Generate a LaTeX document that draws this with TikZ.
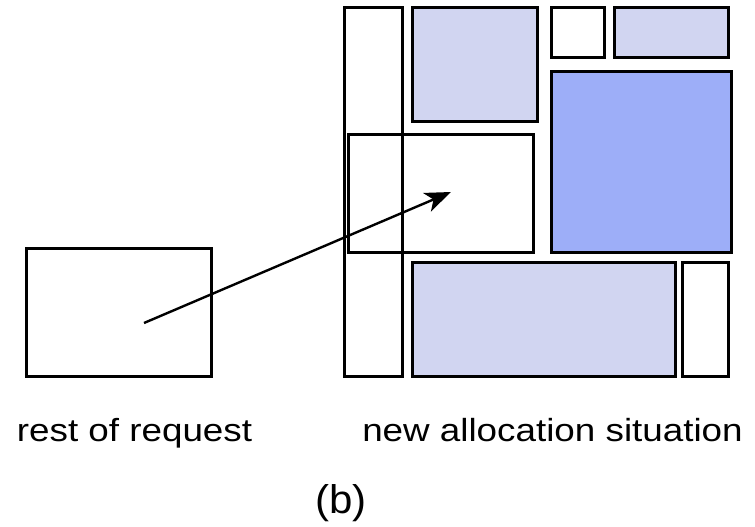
\documentclass[tikz,border=0pt]{standalone}
\usepackage{fontspec}
\setmainfont{Liberation Sans}
\usetikzlibrary{arrows.meta}
\definecolor{lightblk}{RGB}{209,213,241}
\definecolor{darkblk}{RGB}{157,174,248}
\tikzset{
  blk/.style={draw=black, line width=2.6pt, inner sep=0pt, outer sep=0pt},
  lbl/.style={anchor=base, inner sep=0pt, font=\fontsize{32}{38}\selectfont, xscale=1.15},
  conn/.style={line width=2.4pt, -{Stealth[length=26pt,width=20pt,inset=7pt]}}
}
\newcommand{\blkbox}[6]{% name, cx, cy, W, H, fill
  \node[blk, fill=#6, minimum width=#4pt-2.6pt, minimum height=#5pt-2.6pt] (#1) at (#2,#3) {};}
\begin{document}
\begin{tikzpicture}[x=1pt,y=-1pt]
\useasboundingbox (0,0) rectangle (755,527);
\blkbox{req}{119}{312.5}{188}{131}{none}
\blkbox{col}{373.5}{192}{61}{372}{none}
\blkbox{tl}{475}{64.5}{128}{117}{lightblk}
\blkbox{sw}{578}{32.5}{56}{53}{none}
\blkbox{tr}{671.5}{32.5}{117}{53}{lightblk}
\blkbox{big}{641.5}{162}{183}{184}{darkblk}
\blkbox{bl}{544}{319.5}{266}{117}{lightblk}
\blkbox{br}{705.5}{319.5}{49}{117}{none}
\blkbox{ov}{441}{193.5}{188}{121}{none}
\coordinate (from) at (144,323);
\coordinate (to) at (451,192);
\draw[conn] (from) -- (to);
\node[lbl] (t1) at (134.5,441) {rest of request};
\node[lbl] (t2) at (552.5,441) {new allocation situation};
\node[anchor=base, inner sep=0pt, font=\fontsize{40}{46}\selectfont, xscale=1.05] (t3) at (341,513) {(b)};
\end{tikzpicture}
\end{document}
